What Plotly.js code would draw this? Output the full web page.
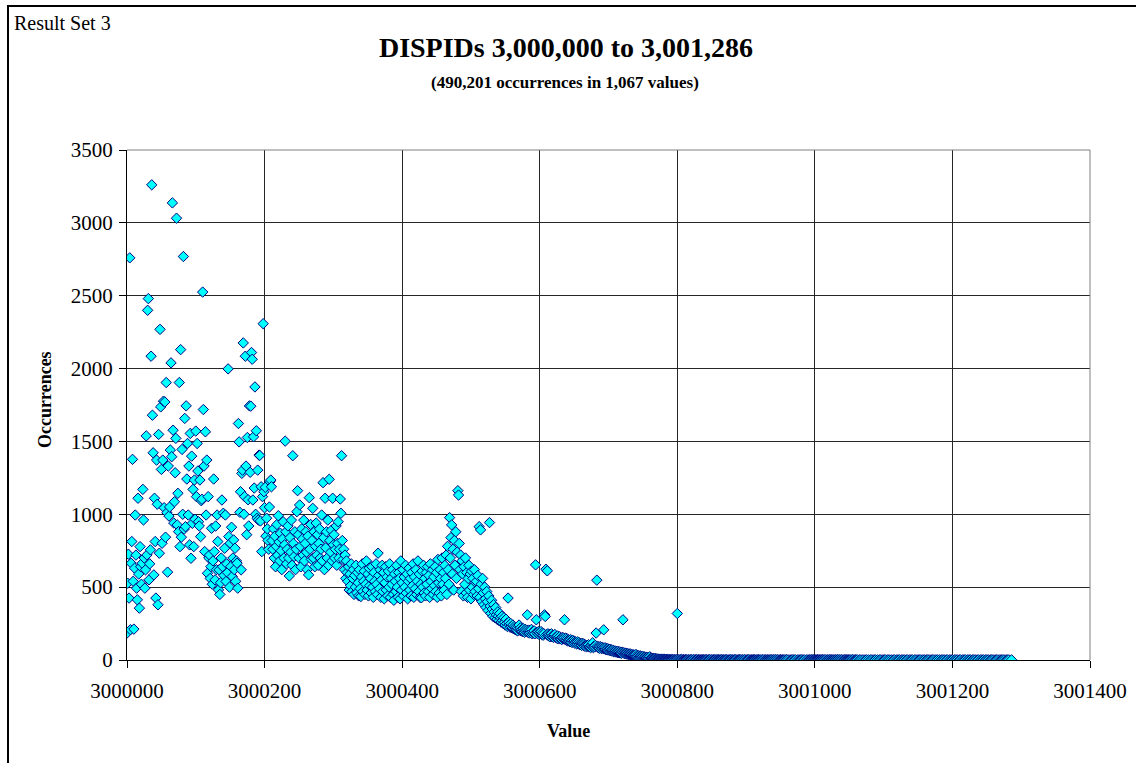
<!DOCTYPE html>
<html>
<head>
<meta charset="utf-8">
<script src="https://cdn.plot.ly/plotly-3.0.1.min.js"></script>
<style>
  html, body { margin: 0; padding: 0; background: #fff; }
  #wrap { position: relative; width: 1136px; height: 763px; overflow: hidden; }
  #chart { position: absolute; left: 0; top: 0; width: 1136px; height: 763px; }
  #frame { position: absolute; left: 7px; top: 5px; right: -10px; bottom: -10px;
           border-left: 2px solid #000; border-top: 2px solid #000; pointer-events: none; }
</style>
</head>
<body>
<div id="wrap">
  <div id="chart"></div>
  <div id="frame"></div>
</div>
<script>
// DISPID occurrence counts, one entry per consecutive ID starting at ID_START.
// null = ID not present in the result set.
const ID_START = 3000000;
const BLOCK_SIZE = 100;

const occ0000 = [
  185,527,726,425,2760,208,664,813,1377,540,
  212,630,995,720,493,413,1110,590,356,778,
  640,520,664,1171,961,700,493,619,1538,721,
  2400,2480,550,660,756,2085,3261,1680,1422,584,
  1110,813,425,1372,1069,379,1548,733,2269,1737,
  1308,801,1372,1776,1045,1771,843,1904,1011,603,
  1331,988,1050,1441,2039,1395,3137,1577,940,1086,
  1285,1521,3032,927,1144,881,1904,778,2130,843,
  1445,1000,2769,898,1658,915,1744,1242,1486,995,
  1331,790,1555,698,1399,938,1171,778,1235,966
];
const occ0100 = [
  1571,1121,1486,1297,949,920,1235,847,1093,1103,
  2525,1719,1331,744,1566,995,1372,595,1121,700,
  720,560,641,904,520,680,1242,744,550,920,
  620,995,813,481,619,450,530,700,1098,640,
  1007,580,767,995,539,660,600,1998,847,500,
  801,641,911,573,700,824,620,767,540,680,
  664,493,1623,1497,1014,1155,619,1281,1303,2176,
  1000,1121,2085,1331,860,1527,1100,920,1744,1288,
  1742,2110,2064,1098,1532,1180,1874,1000,1573,972,
  1303,961,1406,1404,954,1189,744,1121,2308,1155
];
const occ0200 = [
  1045,1185,850,973,900,820,760,1050,1223,1235,
  1189,820,760,900,700,850,640,780,930,720,
  990,810,680,870,750,620,830,949,700,790,
  1502,880,660,760,920,700,577,840,740,960,
  650,1402,800,710,880,620,760,1018,1162,860,
  700,1064,780,640,900,830,720,960,680,800,
  880,740,620,850,584,1114,760,930,690,820,
  1041,700,880,640,780,940,720,860,650,800,
  900,700,760,995,680,1217,840,620,1110,770,
  880,700,960,650,1240,820,740,890,680,1110
];
const occ0300 = [
  790,860,700,760,920,650,800,949,700,760,
  1105,1007,1402,820,690,760,620,720,560,680,
  600,540,640,480,590,510,660,470,560,620,
  450,580,500,650,460,600,530,440,620,490,
  436,570,660,470,540,610,450,520,680,480,
  590,440,630,510,560,460,640,500,430,600,
  540,470,660,520,450,733,580,490,620,430,
  550,650,470,600,420,530,640,480,570,440,
  610,500,660,430,560,520,620,450,410,590,
  540,470,650,500,430,600,560,420,680,480
];
const occ0400 = [
  530,620,440,570,500,650,460,590,420,540,
  630,480,560,440,600,510,660,430,570,490,
  620,450,540,680,470,590,430,520,427,610,
  500,650,460,560,440,600,520,640,470,580,
  430,660,540,490,620,450,570,510,640,470,
  600,430,690,530,460,620,560,440,700,520,
  600,480,650,560,720,450,780,620,520,977,
  700,840,927,590,760,480,820,650,880,560,
  740,1162,1132,800,620,720,470,680,590,440,
  640,520,700,460,600,430,560,650,480,590
];
const occ0500 = [
  420,610,500,560,450,620,470,530,540,440,
  580,490,915,430,893,520,400,560,460,380,
  500,420,360,470,400,340,440,943,370,320,
  410,350,300,380,330,290,360,310,280,330,
  300,270,320,290,260,300,270,250,290,260,
  240,280,250,230,425,260,240,225,250,230,
  220,240,215,230,210,225,205,220,200,215,
  240,205,220,200,210,195,215,200,190,210,
  195,205,310,190,205,185,200,190,210,180,
  195,185,200,180,653,276,190,180,195,175
];
const occ0600 = [
  190,180,195,175,185,170,180,310,299,623,
  175,612,180,165,175,160,170,180,160,170,
  155,165,175,155,160,150,165,145,155,160,
  145,150,140,155,145,150,276,140,150,135,
  145,130,140,135,125,140,130,120,135,125,
  130,115,125,120,110,125,115,120,105,115,
  110,100,115,105,110,95,105,100,90,100,
  95,105,90,95,85,100,90,118,85,95,
  90,100,185,548,95,85,90,80,92,84,
  78,88,80,207,76,84,72,80,70,78
];
const occ0700 = [
  72,66,74,64,70,62,68,58,64,56,
  62,54,60,52,58,50,56,48,54,46,
  52,276,50,44,48,42,46,40,44,38,
  42,36,40,34,38,32,36,30,34,28,
  38,26,32,24,30,22,28,20,26,18,
  24,16,22,15,20,14,18,12,16,11,
  22,10,14,9,12,8,11,7,10,6,
  8,5,7,5,6,4,6,3,5,3,
  4,3,4,2,3,2,3,2,3,2,
  2,null,3,2,null,2,1,2,null,2
];
const occ0800 = [
  319,2,1,null,2,1,3,null,1,2,
  1,null,2,1,1,null,2,1,null,1,
  2,1,null,1,2,null,1,1,2,null,
  1,2,1,null,1,1,null,2,1,1,
  null,1,2,1,null,1,1,2,null,1,
  1,null,1,2,1,null,1,1,null,2,
  1,1,null,1,1,2,null,1,1,null,
  1,2,1,null,1,null,1,1,2,null,
  1,1,null,1,2,1,null,1,null,1,
  2,1,1,null,1,1,null,1,2,null
];
const occ0900 = [
  1,null,1,1,2,null,1,null,1,1,
  null,2,1,1,null,1,null,1,2,1,
  null,1,null,1,1,null,2,null,1,1,
  null,1,1,null,1,null,2,1,null,1,
  1,null,1,2,null,1,1,null,1,null,
  2,1,null,1,1,null,1,null,1,2,
  null,1,null,null,1,null,1,null,2,null,
  1,null,1,null,null,1,null,1,null,1,
  null,2,null,1,null,1,null,null,1,null,
  1,null,1,1,null,1,2,null,1,1
];
const occ1000 = [
  null,1,1,null,2,1,null,1,1,null,
  1,2,null,1,1,null,1,null,1,1,
  null,1,2,null,1,1,null,1,null,1,
  1,null,1,2,null,1,1,null,1,1,
  null,1,null,1,2,null,1,1,null,1,
  1,null,1,null,1,2,null,1,null,1,
  1,null,1,null,null,1,null,1,null,null,
  1,null,null,1,null,1,null,null,1,null,
  null,1,null,1,null,null,1,null,1,null,
  null,1,null,null,1,null,1,null,null,1
];
const occ1100 = [
  null,1,null,1,null,null,1,null,1,null,
  null,1,null,null,1,null,1,null,null,1,
  null,1,null,1,null,null,1,null,1,null,
  1,null,null,1,null,1,null,null,1,null,
  1,null,1,null,null,1,null,1,null,null,
  1,null,1,null,1,null,null,1,null,1,
  null,null,1,null,1,null,1,null,null,1,
  null,1,null,1,null,null,1,null,1,null,
  null,1,null,null,1,null,1,null,1,null,
  null,1,null,1,null,null,1,null,1,null
];
const occ1200 = [
  1,null,null,1,null,1,null,1,null,null,
  1,null,1,null,null,1,null,1,null,1,
  null,null,1,null,1,null,1,null,null,1,
  null,1,null,1,null,null,1,null,1,null,
  null,1,null,1,null,1,null,null,1,null,
  1,null,1,null,null,1,null,1,null,1,
  null,null,1,null,1,null,1,null,null,1,
  null,1,null,1,null,1,null,null,1,null,
  1,null,1,null,null,null,1
];

const blocks = [occ0000, occ0100, occ0200, occ0300, occ0400, occ0500, occ0600,
                occ0700, occ0800, occ0900, occ1000, occ1100, occ1200];

const xTicks = [3000000, 3000200, 3000400, 3000600, 3000800, 3001000, 3001200, 3001400];
const yTicks = [0, 500, 1000, 1500, 2000, 2500, 3000, 3500];

const titleText = 'DISPIDs 3,000,000 to 3,001,286';
const subtitleText = '(490,201 occurrences in 1,067 values)';
const cornerText = 'Result Set 3';
const xTitleText = 'Value';
const yTitleText = 'Occurrences';

// Flatten the blocks into (ID, count) pairs, skipping absent IDs.
const ids = [], counts = [];
blocks.forEach((block, b) => {
  block.forEach((v, i) => {
    if (v !== null) { ids.push(ID_START + b * BLOCK_SIZE + i); counts.push(v); }
  });
});

const SERIF = 'Liberation Serif, Times New Roman, serif';

// Plot area in pixels
const W = 1136, H = 763;
const M = { l: 127, r: 46, t: 150, b: 103 };
const PW = W - M.l - M.r, PH = H - M.t - M.b;
const px2paperX = px => (px - M.l) / PW;
const px2paperY = py => (H - M.b - py) / PH;

const trace = {
  type: 'scatter',
  mode: 'markers',
  x: ids,
  y: counts,
  marker: {
    symbol: 'diamond',
    size: 8,
    color: '#00FFFF',
    line: { color: '#000080', width: 1 }
  },
  hoverinfo: 'x+y'
};

const axisCommon = {
  showgrid: true,
  gridcolor: '#262626',
  gridwidth: 1,
  showline: true,
  linecolor: '#000',
  linewidth: 1,
  ticks: 'outside',
  ticklen: 7,
  tickwidth: 1,
  tickcolor: '#000',
  tickfont: { family: SERIF, size: 21, color: '#000' },
  zeroline: false,
  fixedrange: true
};

const layout = {
  width: W,
  height: H,
  margin: M,
  paper_bgcolor: '#fff',
  plot_bgcolor: '#fff',
  showlegend: false,
  font: { family: SERIF, color: '#000' },
  title: {
    text: '<b>' + titleText + '</b>',
    font: { family: SERIF, size: 28, color: '#000' },
    xref: 'container', yref: 'container',
    x: 566 / W, xanchor: 'center',
    y: 1 - 47 / H, yanchor: 'middle'
  },
  xaxis: Object.assign({}, axisCommon, {
    range: [xTicks[0], xTicks[xTicks.length - 1]],
    tickvals: xTicks,
    ticktext: xTicks.map(String),
    ticklabelstandoff: 5
  }),
  yaxis: Object.assign({}, axisCommon, {
    range: [yTicks[0], yTicks[yTicks.length - 1]],
    tickvals: yTicks,
    ticktext: yTicks.map(String),
    ticklabelstandoff: 2
  }),
  annotations: [
    {
      text: '<b>' + subtitleText + '</b>',
      xref: 'paper', yref: 'paper',
      x: px2paperX(565), y: px2paperY(82),
      xanchor: 'center', yanchor: 'middle',
      showarrow: false,
      font: { family: SERIF, size: 17, color: '#000' }
    },
    {
      text: cornerText,
      xref: 'paper', yref: 'paper',
      x: px2paperX(12), y: px2paperY(23),
      xanchor: 'left', yanchor: 'middle',
      showarrow: false,
      font: { family: SERIF, size: 20, color: '#000' }
    },
    {
      text: '<b>' + xTitleText + '</b>',
      xref: 'paper', yref: 'paper',
      x: px2paperX(568), y: px2paperY(731),
      xanchor: 'center', yanchor: 'middle',
      showarrow: false,
      font: { family: SERIF, size: 18, color: '#000' }
    },
    {
      text: '<b>' + yTitleText + '</b>',
      xref: 'paper', yref: 'paper',
      x: px2paperX(45), y: px2paperY(400),
      xanchor: 'center', yanchor: 'middle',
      textangle: -90,
      showarrow: false,
      font: { family: SERIF, size: 18, color: '#000' }
    }
  ],
  shapes: [
    // plot-area border on the top and right edges
    { type: 'line', xref: 'paper', yref: 'paper', x0: 0, x1: 1, y0: 1, y1: 1,
      line: { color: '#808080', width: 1 } },
    { type: 'line', xref: 'paper', yref: 'paper', x0: 1, x1: 1, y0: 0, y1: 1,
      line: { color: '#808080', width: 1 } }
  ]
};

Plotly.newPlot('chart', [trace], layout, { staticPlot: true, displayModeBar: false });
</script>
</body>
</html>
